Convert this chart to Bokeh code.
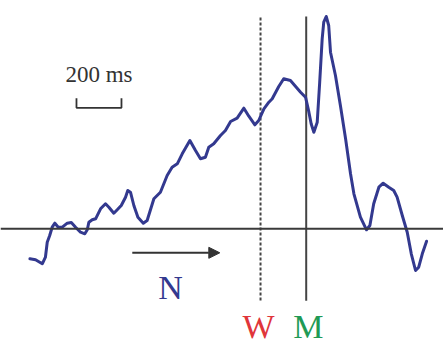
from bokeh.plotting import figure
from bokeh.models import Range1d, Span, Arrow, NormalHead, ColumnDataSource
from bokeh.core.properties import value
from bokeh.embed import file_html
from bokeh.resources import INLINE

# time relative to movement onset (ms) and potential (arbitrary units, up = positive)
time_ms = [-1228, -1203, -1173, -1159, -1151, -1140, -1129, -1117, -1102, -1084,
           -1062, -1044, -1025, -1003, -984, -973, -966, -951, -936, -914,
           -892, -877, -855, -840, -822, -803, -793, -781, -766, -748,
           -724, -707, -677, -648, -618, -596, -573, -551, -517, -492,
           -470, -448, -433, -411, -381, -359, -336, -307, -277, -255,
           -228, -211, -188, -166, -151, -122, -100, -70, -25, -3,
           12, 22, 34, 49, 60, 71, 78, 89, 100, 108,
           130, 152, 175, 197, 212, 241, 268, 283, 300, 323,
           342, 367, 389, 404, 427, 449, 467, 486, 500, 516,
           535]
potential = [-3.0, -3.1, -3.5, -2.84, -1.34, -0.67, 0.16, 0.56, 0.16, 0.16,
             0.56, 0.63, 0.16, -0.34, -0.5, -0.1, 0.66, 0.9, 1.0, 2.0,
             2.5, 2.16, 1.56, 1.9, 2.33, 3.16, 3.83, 3.66, 2.33, 1.16,
             0.56, 0.83, 3.0, 3.66, 5.33, 6.16, 6.5, 7.5, 8.83, 7.83,
             7.0, 7.16, 8.16, 8.5, 9.33, 9.83, 10.73, 11.06, 12.06, 11.26,
             10.4, 10.83, 12.0, 12.66, 13.0, 14.23, 15.0, 14.83, 13.66, 13.16,
             11.66, 10.5, 9.66, 10.66, 14.66, 19.0, 20.66, 21.23, 20.33, 17.66,
             15.33, 12.33, 9.0, 5.5, 3.5, 1.16, -0.1, 0.33, 2.5, 4.16,
             4.56, 4.16, 3.83, 3.16, 1.33, -0.34, -2.5, -4.17, -3.84, -2.5,
             -1.24]

w_time = -203      # reported awareness of wanting (W)
m_time = 0         # movement onset (M)
marker_labels = ["W", "M"]
marker_colors = ["#e0353a", "#1f9a55"]
scale_ms = 200
scale_label = "200 ms"
arrow_label = "N"

p = figure(width=443, height=340, output_backend="svg", toolbar_location=None,
           x_range=Range1d(-1358.7, 610.2), y_range=Range1d(-11.17, 22.83),
           x_axis_type=None, y_axis_type=None, min_border=0)
p.grid.visible = False
p.outline_line_color = None
p.background_fill_color = "white"
p.border_fill_color = "white"

# baseline
p.add_layout(Span(location=0, dimension="width", line_color="#3a3a3a", line_width=2))

# W dashed and M solid vertical lines
p.segment(x0=[w_time], y0=[-7.17], x1=[w_time], y1=[21.33], line_color="#444444",
          line_width=2, line_dash="3 2")
p.segment(x0=[m_time], y0=[-7.2], x1=[m_time], y1=[21.23], line_color="#444444",
          line_width=2)

# readiness potential trace
p.line(time_ms, potential, line_color="#33398f", line_width=3, line_join="round", line_cap="round")

# scale bar
sx0 = -1021
sx1 = sx0 + scale_ms
p.line([sx0, sx0, sx1, sx1], [13.06, 12.1, 12.1, 13.06], line_color="#333333", line_width=1.8)
p.text(x=[(sx0 + sx1) / 2], y=[15.45], text=[scale_label], text_font=value("Liberation Serif"),
       text_font_size="23px", text_color="#333333", text_align="center", text_baseline="alphabetic")

# arrow N
p.add_layout(Arrow(end=NormalHead(size=11, fill_color="#333333", line_color="#333333"),
                   x_start=-773, y_start=-2.4, x_end=-384, y_end=-2.4,
                   line_color="#333333", line_width=2))
p.text(x=[-603], y=[-5.85], text=[arrow_label], text_font=value("Liberation Serif"),
       text_font_size="34px", text_color="#33398f", text_align="center", text_baseline="alphabetic")

# W / M labels
src = ColumnDataSource(dict(x=[-212, 10], y=[-9.8, -9.8],
                            t=marker_labels, c=marker_colors))
p.text(x="x", y="y", text="t", text_color="c", source=src, text_font=value("Liberation Serif"),
       text_font_size="34px", text_align="center", text_baseline="alphabetic")

open("out.html", "w").write(file_html(p, INLINE))
